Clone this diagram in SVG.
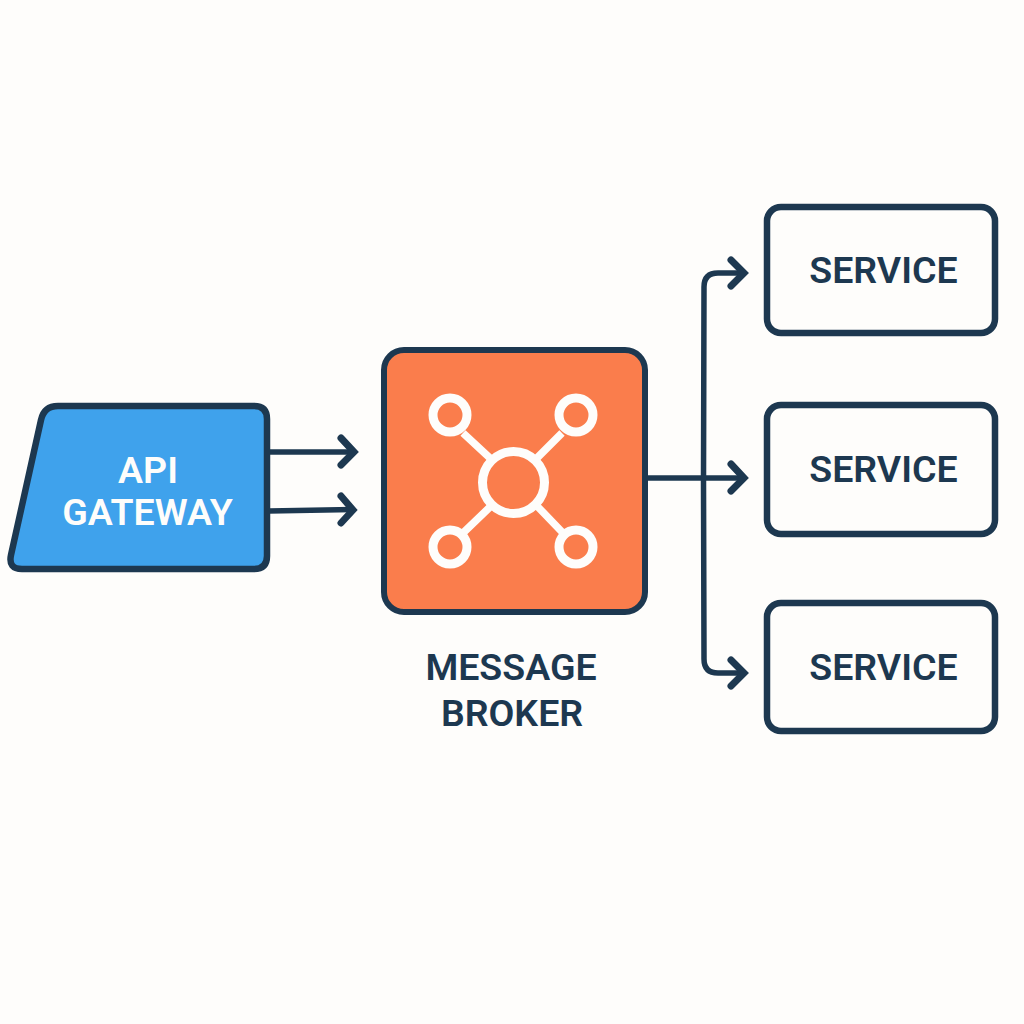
<svg xmlns="http://www.w3.org/2000/svg" width="1024" height="1024" viewBox="0 0 1024 1024">
<style>
.box{fill:#fefdfb;stroke:#1d3850;stroke-width:6.500}
.con{fill:none;stroke:#1d3850;stroke-width:5.500;stroke-linejoin:round}
.head{fill:none;stroke:#1d3850;stroke-width:7;stroke-linecap:round;stroke-linejoin:miter}
.ic{fill:none;stroke:#fefdfb;stroke-width:9}
.sp{stroke-width:7.500}
text{font-family:Roboto,"Liberation Sans",sans-serif;font-weight:600;font-size:37.500px;text-anchor:middle}
.d{fill:#1d3850}.w{fill:#fefdfb}
</style>
<rect width="1024" height="1024" fill="#fefdfb"/>
<g id="connectors">
<path class="con" d="M269 452H353"/>
<path class="head" d="M341 438L354 452L341 465"/>
<path class="con" d="M269 511L353 509.500"/>
<path class="head" d="M341 496L353 510L341 523"/>
<path class="con" d="M646 478H743"/>
<path class="head" d="M731 464L744 478L731 491"/>
<path class="con" d="M743 273H718Q704 273 704 287L703.500 480L704 659Q704 673 718 673H743"/>
<path class="head" d="M731 260L744 273L731 286"/>
<path class="head" d="M731 660L744 673L731 686"/>
</g>
<g id="api-gateway">
<path d="M41 420Q44 406 58 406H254Q267 406 267 419V556Q267 569 254 569H22Q8 569 11 555Z" fill="#3fa2ec" stroke="#1d3850" stroke-width="6.500" stroke-linejoin="round"/>
<text class="w" x="148" y="483">API</text>
<text class="w" x="147.500" y="525">GATEWAY</text>
</g>
<g id="message-broker">
<rect x="384" y="350" width="261" height="262" rx="20" fill="#fa7d4c" stroke="#1d3850" stroke-width="6"/>
<g class="ic">
<circle cx="513.500" cy="482.500" r="31"/>
<circle cx="450" cy="415" r="17"/>
<circle cx="576" cy="415" r="17"/>
<circle cx="450" cy="547" r="17"/>
<circle cx="576" cy="547" r="17"/>
<path class="sp" d="M463 433L491 459M562 433L536 459M491 506L463 533M537 506L563 533"/>
</g>
<text class="d" x="511" y="680">MESSAGE</text>
<text class="d" x="512" y="726">BROKER</text>
</g>
<g id="service-1">
<rect class="box" x="767" y="207" width="228" height="126" rx="14"/>
<text class="d" x="883.500" y="283">SERVICE</text>
</g>
<g id="service-2">
<rect class="box" x="767" y="405" width="228" height="129" rx="14"/>
<text class="d" x="883.500" y="482">SERVICE</text>
</g>
<g id="service-3">
<rect class="box" x="767" y="603" width="228" height="128" rx="14"/>
<text class="d" x="883.500" y="680">SERVICE</text>
</g>
</svg>
